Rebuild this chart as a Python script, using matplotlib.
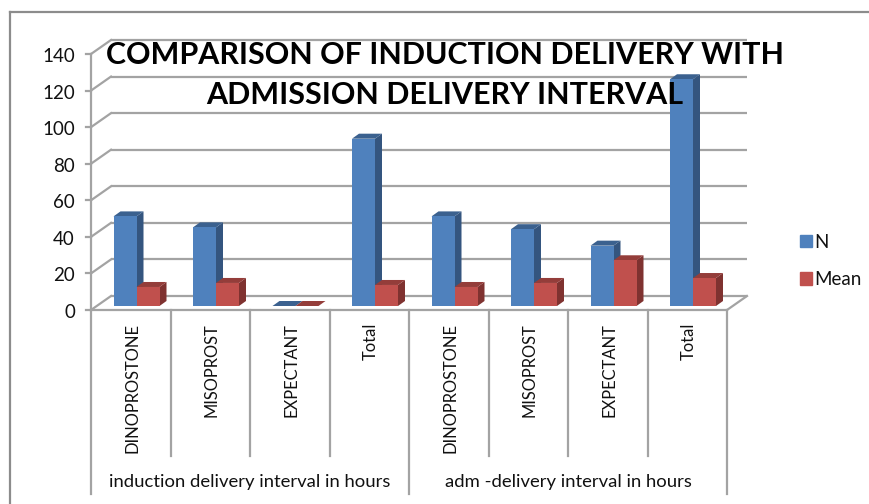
import matplotlib
matplotlib.use('Agg')
import matplotlib.pyplot as plt
from matplotlib.patches import Patch, Polygon
from matplotlib.transforms import Affine2D

plt.rcParams['font.family'] = ['Lato', 'DejaVu Sans']

# data
categories = ['DINOPROSTONE', 'MISOPROST', 'EXPECTANT', 'Total',
              'DINOPROSTONE', 'MISOPROST', 'EXPECTANT', 'Total']
groups = ['induction delivery interval in hours', 'adm -delivery interval in hours']
n_values = [49, 43, 0, 91.5, 49, 42, 33, 124]
mean_values = [10.4, 12.6, 0, 11.5, 10.4, 12.6, 25, 15.3]
y_ticks = [0, 20, 40, 60, 80, 100, 120, 140]
title = 'COMPARISON OF INDUCTION DELIVERY WITH\nADMISSION DELIVERY INTERVAL'

W, H = 869, 504
fig = plt.figure(figsize=(W / 100, H / 100), dpi=100)
fig.patch.set_facecolor('white')

# front plane of the chart, in pixels of the image
left, right, top, bottom = 91, 727, 54, 310
ax = fig.add_axes([left / W, 1 - bottom / H, (right - left) / W, (bottom - top) / H])
ax.set_xlim(0, len(categories))
ax.set_ylim(0, 140)
ax.axis('off')

grid_col = '#a3a3a3'
text_col = '#111111'
n = len(categories)
px_x = (right - left) / n  # pixels per category
px_y = (bottom - top) / 140  # pixels per unit


def shifted_px(dx, dy):
    return ax.transData + Affine2D().translate(dx, dy)


back = shifted_px(20, 14)
for v in y_ticks:
    ax.plot([0, n], [v, v], color=grid_col, lw=1.6, transform=back, clip_on=False, solid_capstyle='butt')
    # diagonal from the left axis to the back wall
    ax.plot([0, 20 / px_x], [v, v + 14 / px_y], color=grid_col, lw=1.6, clip_on=False)
    ax.plot([-5 / px_x, 0], [v, v], color=grid_col, lw=1.6, clip_on=False)
    ax.text(-16 / px_x, v - 1 / px_y, str(v), ha='right', va='center_baseline', fontsize=13.5,
            color=text_col, clip_on=False)

# left axis, front floor edge, right floor edge
ax.plot([0, 0], [0, 140], color=grid_col, lw=1.6, clip_on=False)
ax.plot([0, n], [0, 0], color=grid_col, lw=1.6, clip_on=False)
ax.plot([n, n + 20 / px_x], [0, 14 / px_y], color=grid_col, lw=1.6, clip_on=False)


def draw_bar(x, w, h, front, side, lid, order):
    t = shifted_px(0, 4)
    dx = 7 / px_x
    dy = 5 / px_y
    ax.add_patch(Polygon([(x + w, 0), (x + w + dx, dy), (x + w + dx, h + dy), (x + w, h)],
                         facecolor=side, edgecolor='none', transform=t, clip_on=False, zorder=order))
    ax.add_patch(Polygon([(x, h), (x + dx, h + dy), (x + w + dx, h + dy), (x + w, h)],
                         facecolor=lid, edgecolor='none', transform=t, clip_on=False, zorder=order))
    ax.bar(x, h, w, align='edge', color=front, transform=t, clip_on=False, zorder=order)


bar_w = 23 / px_x
start = 22.5 / px_x
for i in range(n):
    draw_bar(i + start, bar_w, n_values[i], '#4f81bd', '#34557f', '#3b618f', 3 + i)
    draw_bar(i + start + bar_w, bar_w, mean_values[i], '#c0504d', '#7f3230', '#943d3a', 3.5 + i)

# category axis below the floor
for i in range(n + 1):
    low = 184 if i in (0, 4, 8) else 146
    ax.plot([i, i], [0, -low / px_y], color=grid_col, lw=1.6, clip_on=False)
for i, c in enumerate(categories):
    ax.text(i + 0.5 + 1.5 / px_x, -13 / px_y, c, rotation=90, ha='center', va='top', fontsize=11.9,
            color=text_col, clip_on=False)
for j, g in enumerate(groups):
    ax.text(2 + 4 * j, -172.5 / px_y, g, ha='center', va='center', fontsize=13.3,
            color=text_col, clip_on=False)

fig.text(445 / W, 1 - 75 / H, title, ha='center', va='center', fontsize=21.9, fontweight='bold',
         color='black', linespacing=1.5, zorder=20)

handles = [Patch(color='#4f81bd', label='N'), Patch(color='#c0504d', label='Mean')]
fig.legend(handles=handles, loc='center left', bbox_to_anchor=(783 / W, 1 - 261 / H), frameon=False,
           fontsize=13.5, handlelength=0.65, handleheight=0.65, handletextpad=0.12, labelspacing=1.1,
           labelcolor=text_col)

# chart border, open on the right and at the bottom
border = fig.add_axes([0, 0, 1, 1], zorder=-1)
border.set_xlim(0, W)
border.set_ylim(H, 0)
border.axis('off')
border.plot([10, 10], [H, 12], color='#8c8c8c', lw=1.6)
border.plot([10, W], [12, 12], color='#8c8c8c', lw=1.6)

fig.savefig('out.png', dpi=100)
